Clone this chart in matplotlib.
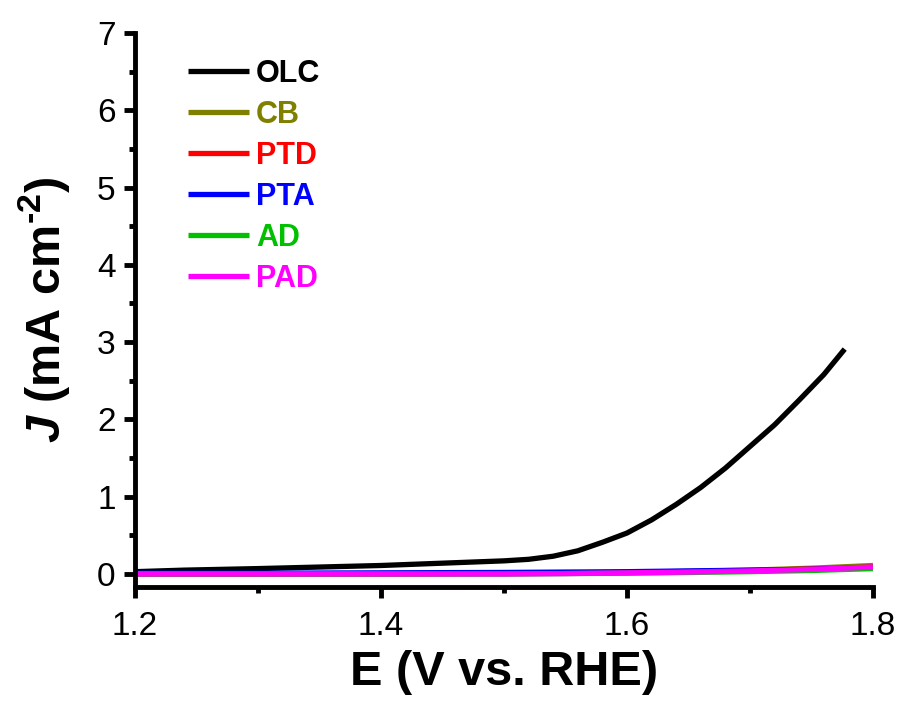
import numpy as np
import matplotlib
matplotlib.use('Agg')
from matplotlib import pyplot as plt
from matplotlib.ticker import MultipleLocator

plt.rcParams['font.family'] = ['Liberation Sans', 'DejaVu Sans']
plt.rcParams['mathtext.fontset'] = 'custom'
plt.rcParams['mathtext.rm'] = 'Liberation Sans:bold'
plt.rcParams['mathtext.it'] = 'Liberation Sans:bold:italic'
plt.rcParams['mathtext.bf'] = 'Liberation Sans:bold'

# OLC curve
E_olc = [1.20, 1.24, 1.30, 1.35, 1.40, 1.45, 1.50, 1.52, 1.54, 1.56, 1.58,
         1.60, 1.62, 1.64, 1.66, 1.68, 1.70, 1.72, 1.74, 1.76, 1.777]
J_olc = [0.03, 0.05, 0.07, 0.09, 0.11, 0.14, 0.17, 0.19, 0.23, 0.30, 0.41,
         0.53, 0.70, 0.90, 1.12, 1.37, 1.65, 1.93, 2.25, 2.58, 2.91]

# the other samples stay near zero
E_low = [1.20, 1.30, 1.40, 1.50, 1.55, 1.60, 1.65, 1.70, 1.75, 1.80]
J_cb = [0.0, 0.0, 0.005, 0.01, 0.015, 0.02, 0.035, 0.05, 0.075, 0.11]
J_ptd = [0.0, 0.0, 0.0, 0.005, 0.01, 0.02, 0.03, 0.045, 0.065, 0.09]
J_pta = [0.01, 0.01, 0.015, 0.02, 0.025, 0.03, 0.04, 0.05, 0.06, 0.08]
J_ad = [0.0, 0.0, 0.0, 0.0, 0.005, 0.01, 0.02, 0.03, 0.045, 0.07]
J_pad = [0.0, 0.0, 0.0, 0.0, 0.005, 0.015, 0.025, 0.04, 0.06, 0.09]

labels = ['OLC', 'CB', 'PTD', 'PTA', 'AD', 'PAD']
colors = ['black', '#808000', '#ff0000', '#0000ff', '#00c000', '#ff00ff']

fig = plt.figure(figsize=(9.07, 7.09), dpi=100)
ax = fig.add_axes([0.1488, 0.1721, 0.8137, 0.7814])

series = [(E_olc, J_olc), (E_low, J_cb), (E_low, J_ptd),
          (E_low, J_pta), (E_low, J_ad), (E_low, J_pad)]
for (x, y), lab, c in zip(series, labels, colors):
    ax.plot(x, y, color=c, lw=3.8, label=lab, solid_capstyle='butt')

ax.set_xlim(1.2, 1.8)
ax.set_ylim(-0.168, 7)
ax.xaxis.set_major_locator(MultipleLocator(0.2))
ax.xaxis.set_minor_locator(MultipleLocator(0.1))
ax.yaxis.set_major_locator(MultipleLocator(1))
ax.yaxis.set_minor_locator(MultipleLocator(0.5))

for s in ['top', 'right']:
    ax.spines[s].set_visible(False)
for s in ['left', 'bottom']:
    ax.spines[s].set_linewidth(3.5)

ax.tick_params(which='major', direction='out', length=8, width=3.5, labelsize=24)
ax.tick_params(axis='x', which='major', pad=9)
ax.tick_params(axis='y', which='major', pad=6)
ax.tick_params(which='minor', direction='out', length=4, width=3.5)

ax.set_xlabel('E (V vs. RHE)', fontsize=35, fontweight='bold', labelpad=6)
ax.set_ylabel('$J$ (mA cm$^{\u20102}$)', fontsize=35, fontweight='bold', labelpad=18)

leg = ax.legend(loc='upper left', bbox_to_anchor=(0.0718, 0.953), frameon=False,
                borderpad=0, borderaxespad=0, handlelength=2.0, handletextpad=0.23,
                labelspacing=0.36, labelcolor='linecolor',
                prop={'family': 'Liberation Sans', 'weight': 'bold', 'size': 22})

fig.savefig('out.png', dpi=100)
